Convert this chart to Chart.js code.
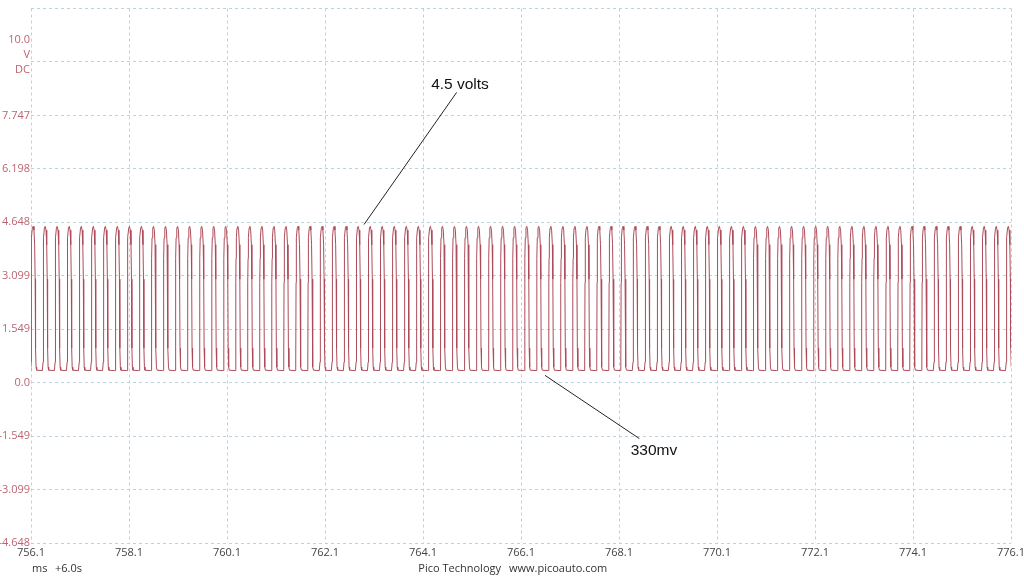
<!DOCTYPE html>
<html>
<head>
<meta charset="utf-8">
<script src="https://cdn.jsdelivr.net/npm/chart.js@4/dist/chart.umd.min.js"></script>
<style>
  html, body { margin: 0; padding: 0; background: #fff; }
  canvas { display: block; }
</style>
</head>
<body>
<canvas id="scope" width="1024" height="576"></canvas>
<script>
// time axis (ms, +6.0s)
const xTickValues = [756.1, 758.1, 760.1, 762.1, 764.1, 766.1, 768.1, 770.1, 772.1, 774.1, 776.1];
const xTickLabels = ['756.1', '758.1', '760.1', '762.1', '764.1', '766.1', '768.1', '770.1', '772.1', '774.1', '776.1'];

// voltage axis
const yTickValues = [-4.648, -3.099, -1.549, 0, 1.549, 3.099, 4.648, 6.198, 7.747, 9.296, 10.846];
const yTickLabels = ['-4.648', '-3.099', '-1.549', '0.0', '1.549', '3.099', '4.648', '6.198', '7.747', ['10.0', 'V', 'DC', ''], ''];

// rising edge of each pulse (ms)
const edgeTimes = [
  756.095, 756.341, 756.586, 756.832, 757.078, 757.324, 757.569, 757.815, 758.061, 758.306,
  758.552, 758.798, 759.043, 759.289, 759.535, 759.781, 760.026, 760.272, 760.518, 760.763,
  761.009, 761.255, 761.500, 761.746, 761.992, 762.238, 762.483, 762.729, 762.975, 763.220,
  763.466, 763.712, 763.957, 764.203, 764.449, 764.695, 764.940, 765.186, 765.432, 765.677,
  765.923, 766.169, 766.414, 766.660, 766.906, 767.152, 767.397, 767.643, 767.889, 768.134,
  768.380, 768.626, 768.871, 769.117, 769.363, 769.609, 769.854, 770.100, 770.346, 770.591,
  770.837, 771.083, 771.328, 771.574, 771.820, 772.066, 772.311, 772.557, 772.803, 773.048,
  773.294, 773.540, 773.785, 774.031, 774.277, 774.523, 774.768, 775.014, 775.260, 775.505,
  775.751, 775.997
];

// shape of one pulse: time after the edge (ms) and level (V)
const pulseOffsets = [0, 0.0061, 0.0092, 0.0122, 0.0184, 0.0327, 0.049, 0.0653, 0.0796, 0.0898, 0.0979, 0.1081, 0.1204, 0.2367];
const pulseVolts   = [0.35, 0.6, 2.9, 3.6, 4.2, 4.48, 4.53, 4.42, 4.0, 3.0, 1.0, 0.45, 0.36, 0.35];

// callouts: text, text position, line start, line tip (ms, V)
const noteTexts = ['4.5 volts', '330mv'];
const noteTextX = [764.855, 768.814];
const noteTextY = [8.64, -1.96];
const noteFromX = [764.787, 768.515];
const noteFromY = [8.414, -1.621];
const noteToX = [762.896, 766.59];
const noteToY = [4.583, 0.211];

const trace = [];
edgeTimes.forEach(t0 => {
  pulseOffsets.forEach((dt, i) => {
    trace.push({ x: +(t0 + dt).toFixed(4), y: pulseVolts[i] });
  });
});

const gridColor = '#bcd2df';
const axisRed = '#bc6470';

const callouts = {
  id: 'callouts',
  afterDatasetsDraw(chart) {
    const { ctx, scales: { x, y } } = chart;
    ctx.save();
    ctx.strokeStyle = '#222';
    ctx.lineWidth = 1;
    noteTexts.forEach((txt, i) => {
      ctx.beginPath();
      ctx.moveTo(x.getPixelForValue(noteFromX[i]), y.getPixelForValue(noteFromY[i]));
      ctx.lineTo(x.getPixelForValue(noteToX[i]), y.getPixelForValue(noteToY[i]));
      ctx.stroke();
      ctx.fillStyle = '#111';
      ctx.font = '15.5px "Liberation Sans", Arial, sans-serif';
      ctx.textAlign = 'center';
      ctx.textBaseline = 'middle';
      ctx.fillText(txt, x.getPixelForValue(noteTextX[i]), y.getPixelForValue(noteTextY[i]));
    });
    ctx.restore();
  }
};

const footer = {
  id: 'footer',
  afterDraw(chart) {
    const { ctx, chartArea } = chart;
    ctx.save();
    ctx.fillStyle = '#333';
    ctx.font = '11px "Open Sans", sans-serif';
    ctx.textBaseline = 'middle';
    ctx.textAlign = 'left';
    ctx.fillText('ms', chartArea.left + 1, 569);
    ctx.fillText('+6.0s', chartArea.left + 24, 569);
    ctx.textAlign = 'right';
    ctx.fillText('Pico Technology', 501, 569);
    ctx.textAlign = 'left';
    ctx.fillText('www.picoauto.com', 509, 569);
    ctx.restore();
  }
};

new Chart(document.getElementById('scope'), {
  type: 'line',
  data: {
    datasets: [{
      data: trace,
      borderColor: '#ac4c5a',
      borderWidth: 1,
      pointRadius: 0,
      tension: 0,
      fill: false
    }]
  },
  options: {
    responsive: false,
    animation: false,
    events: [],
    layout: { padding: { top: 8, right: 13, left: 0, bottom: 0 } },
    plugins: {
      legend: { display: false },
      tooltip: { enabled: false }
    },
    scales: {
      x: {
        type: 'linear',
        min: 756.1,
        max: 776.1,
        afterBuildTicks: (scale) => { scale.ticks = xTickValues.map(v => ({ value: v })); },
        afterFit: (scale) => { scale.height = 33; scale.paddingLeft = 0; scale.paddingRight = 0; },
        ticks: {
          autoSkip: false,
          maxRotation: 0,
          padding: 3,
          color: '#444',
          font: { family: '"Open Sans", sans-serif', size: 11 },
          callback: (val, i) => xTickLabels[i]
        },
        grid: { color: gridColor, drawTicks: false, lineWidth: 1 },
        border: { display: false, dash: [3, 3] }
      },
      y: {
        type: 'linear',
        min: -4.648,
        max: 10.846,
        afterBuildTicks: (scale) => { scale.ticks = yTickValues.map(v => ({ value: v })); },
        afterFit: (scale) => { scale.width = 31; },
        ticks: {
          autoSkip: false,
          padding: 1,
          color: axisRed,
          font: { family: '"Open Sans", sans-serif', size: 11, lineHeight: 1.36 },
          callback: (val, i) => yTickLabels[i]
        },
        grid: { color: gridColor, drawTicks: false, lineWidth: 1 },
        border: { display: false, dash: [3, 3] }
      }
    }
  },
  plugins: [callouts, footer]
});
</script>
</body>
</html>
